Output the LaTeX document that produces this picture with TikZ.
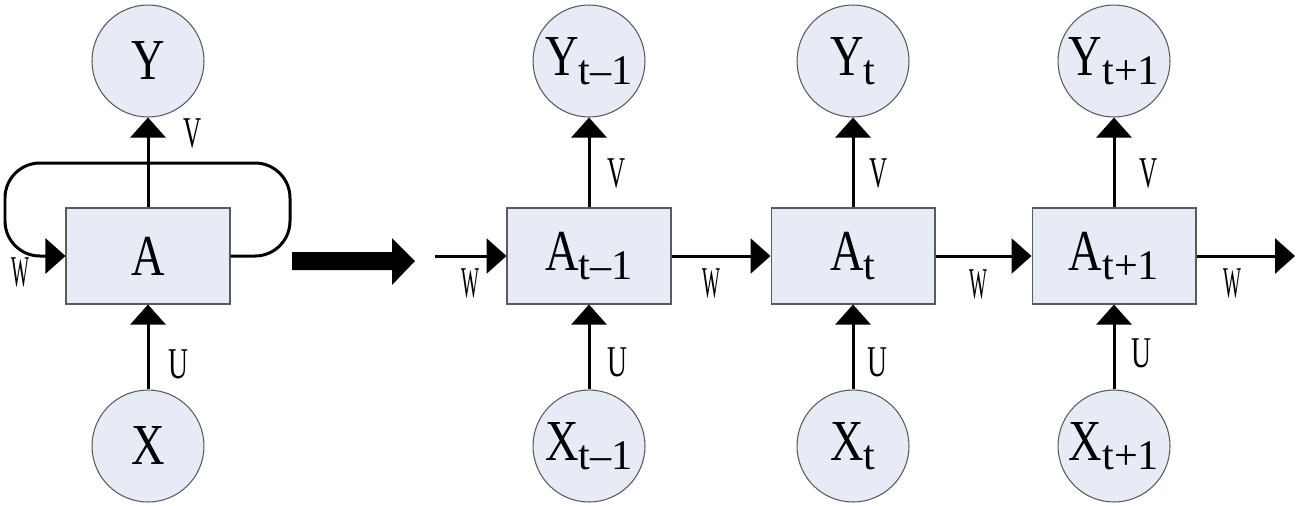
\documentclass[tikz,border=0pt]{standalone}
\usepackage{fontspec}
\setmainfont{Liberation Serif}
\usetikzlibrary{arrows.meta}
\definecolor{cellfill}{RGB}{230,235,246}
\definecolor{cellline}{RGB}{90,90,90}
\newcommand{\squeeze}[2]{\scalebox{#1}[1]{#2}}
\newcommand{\state}[2]{\squeeze{0.8}{#1}\raisebox{-5pt}{\fontsize{24}{24}\selectfont #2}}
\tikzset{
  cell/.style={circle,draw=cellline,fill=cellfill,line width=0.6pt,minimum size=2.24cm,inner sep=0pt,font=\fontsize{33}{36}\selectfont},
  block/.style={rectangle,draw=cellline,fill=cellfill,line width=0.6pt,minimum width=3.28cm,minimum height=1.92cm,inner sep=0pt,font=\fontsize{33}{36}\selectfont},
  edge/.style={line width=0.06cm,-{Triangle[length=0.4cm,width=0.7cm]}},
  wt/.style={inner sep=0pt,font=\fontsize{25}{27}\selectfont}
}
\begin{document}
\begin{tikzpicture}[x=0.02cm,y=-0.02cm]
     \useasboundingbox (0,0) rectangle (1300,505);
     % folded network
     \node[block] (A) at (148,256) {\squeeze{0.8}{A}};
     \node[cell] (Y) at (148,61) {\squeeze{0.8}{Y}};
     \node[cell] (X) at (148,446) {\squeeze{0.8}{X}};
     \draw[edge] (A.north) -- (Y.south);
     \draw[edge] (X.north) -- (A.south);
     \draw[edge,rounded corners=0.7cm] (A.east) -- (290,256) -- (290,163) -- (5,163) -- (5,256) -- (A.west);
     \node[wt] (v0) at (193,133) {\squeeze{0.57}{V}};
     \node[wt] (u0) at (178,364) {\squeeze{0.63}{U}};
     \node[wt] (w0) at (20,272) {\squeeze{0.43}{W}};
     % unfold arrow
     \fill (292,252) -- (392,252) -- (392,238) -- (415,261) -- (392,285) -- (392,270) -- (292,270) -- cycle;
     % unfolded network
     \node[block] (A1) at (589,256) {\state{A}{t--1}};
     \node[block] (A2) at (853,256) {\state{A}{t}};
     \node[block] (A3) at (1114,256) {\state{A}{t+1}};
     \node[cell] (Y1) at (589,61) {\state{Y}{t--1}};
     \node[cell] (Y2) at (853,61) {\state{Y}{t}};
     \node[cell] (Y3) at (1114,61) {\state{Y}{t+1}};
     \node[cell] (X1) at (589,446) {\state{X}{t--1}};
     \node[cell] (X2) at (853,446) {\state{X}{t}};
     \node[cell] (X3) at (1114,446) {\state{X}{t+1}};
     \coordinate (in) at (435,256);
     \coordinate (out) at (1295,256);
     \draw[edge] (A1.north) -- (Y1.south); \draw[edge] (X1.north) -- (A1.south);
     \draw[edge] (A2.north) -- (Y2.south); \draw[edge] (X2.north) -- (A2.south);
     \draw[edge] (A3.north) -- (Y3.south); \draw[edge] (X3.north) -- (A3.south);
     \draw[edge] (in) -- (A1.west); \draw[edge] (A1.east) -- (A2.west);
     \draw[edge] (A2.east) -- (A3.west); \draw[edge] (A3.east) -- (out);
     \node[wt] (v1) at (617,173) {\squeeze{0.57}{V}}; \node[wt] (u1) at (617,362) {\squeeze{0.63}{U}};
     \node[wt] (v2) at (879,173) {\squeeze{0.57}{V}}; \node[wt] (u2) at (877,362) {\squeeze{0.63}{U}};
     \node[wt] (v3) at (1149,173) {\squeeze{0.57}{V}}; \node[wt] (u3) at (1141,353) {\squeeze{0.63}{U}};
     \node[wt] (w1) at (470,283) {\squeeze{0.43}{W}}; \node[wt] (w2) at (711,283) {\squeeze{0.43}{W}};
     \node[wt] (w3) at (978,284) {\squeeze{0.43}{W}}; \node[wt] (w4) at (1232,283) {\squeeze{0.43}{W}};
 \end{tikzpicture}
\end{document}
